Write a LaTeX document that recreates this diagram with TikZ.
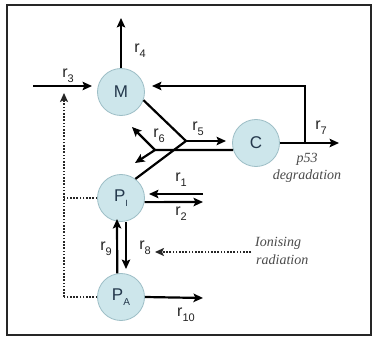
\documentclass[tikz,border=0pt]{standalone}
\usepackage{fontspec}
\setmainfont{Liberation Sans}
\newfontfamily\serifit{Liberation Serif}
\usetikzlibrary{arrows.meta}
\definecolor{nodefill}{HTML}{CDE6EB}
\definecolor{nodeline}{HTML}{9DBEC6}
\definecolor{nodetext}{HTML}{24384C}
\definecolor{labtext}{HTML}{222222}
\definecolor{ittext}{HTML}{4A4A4A}
\newcommand\rlab[1]{r\raisebox{-0.32em}{\fontsize{11}{11}\selectfont #1}}
\tikzset{
  species/.style={circle, draw=nodeline, line width=0.8pt, fill=nodefill, minimum size=47pt, inner sep=0pt, text=nodetext, font=\fontsize{17}{17}\selectfont},
  rxn/.style={line width=2.2pt, draw=black},
  arr/.style={rxn, -{Stealth[length=9.5pt,width=8.5pt,inset=2pt]}},
  dotl/.style={line width=2.2pt, draw=black!85, dash pattern=on 1.6pt off 1.6pt},
  dotarr/.style={dotl, -{Stealth[length=9pt,width=8pt,inset=2pt]}},
  lab/.style={text=labtext, font=\fontsize{16}{16}\selectfont, inner sep=0pt},
  itlab/.style={text=ittext, font=\serifit\itshape\fontsize{14}{14}\selectfont, inner sep=0pt}
}
\begin{document}
\begin{tikzpicture}[x=1pt,y=-1pt]
\useasboundingbox (0,0) rectangle (373,337);
\fill[white] (0,0) rectangle (373,337);
\draw[line width=2.5pt, draw=black!85] (7,5) rectangle (371,335);

% species
\node[species] (M) at (121,92) {M};
\node[species] (C) at (256,143) {C};
\node[species] (PI) at (121,198) {P\raisebox{-0.3em}{\fontsize{9}{9}\selectfont I}};
\node[species] (PA) at (121,297) {P\raisebox{-0.3em}{\fontsize{10}{10}\selectfont A}};

% coordinates
\coordinate (r4e) at (121,18);
\coordinate (r3s) at (33,86);
\coordinate (r3e) at (92,86);
\coordinate (dx) at (64,93);
\coordinate (fb1) at (305,143);
\coordinate (fb2) at (305,86);
\coordinate (fbe) at (152,86);
\coordinate (r7e) at (339,143);
\coordinate (V1) at (186,141);
\coordinate (r5e) at (226,141);
\coordinate (V2) at (155,150);
\coordinate (r6a) at (132,127);
\coordinate (r6b) at (135,163);
\coordinate (r1s) at (203,194);
\coordinate (r1e) at (149,194);
\coordinate (r2e) at (203,202);
\coordinate (r9e) at (117,219);
\coordinate (r8s) at (126,222);
\coordinate (r8e) at (126,269);
\coordinate (irs) at (251,252);
\coordinate (ire) at (155,252);
\coordinate (r10e) at (203,298);

% r4, r3
\draw[arr] (M.north) -- (r4e);
\draw[arr] (r3s) -- (r3e);
% dotted regulation
\draw[dotl] (PA.west) -- (PA.west -| dx);
\draw[dotl] (PI.west) -- (PI.west -| dx);
\draw[dotarr] (PA.west -| dx) -- (dx);
% r7 and feedback
\draw[arr] (C.east) -- (r7e);
\draw[arr] (fb1) -- (fb2) -- (fbe);
% r5
\draw[rxn] (M.-20) -- (V1);
\draw[rxn] (PI.53) -- (V1);
\draw[arr] (V1) -- (r5e);
% r6
\draw[rxn] (C.197) -- (V2);
\draw[arr] (V2) -- (r6a);
\draw[arr] (V2) -- (r6b);
% r1, r2
\draw[arr] (r1s) -- (r1e);
\draw[arr] (PI.-10) -- (r2e);
% r9, r8
\draw[arr] (PA.99) -- (r9e);
\draw[arr] (r8s) -- (r8e);
\draw[dotarr] (irs) -- (ire);
% r10
\draw[arr] (PA.east) -- (r10e);

% labels
\node[lab] (l4) at (140,51) {\rlab{4}};
\node[lab] (l3) at (68,76) {\rlab{3}};
\node[lab] (l5) at (198,129) {\rlab{5}};
\node[lab] (l6) at (159,136) {\rlab{6}};
\node[lab] (l7) at (321,128) {\rlab{7}};
\node[lab] (l1) at (181,180) {\rlab{1}};
\node[lab] (l2) at (181,214) {\rlab{2}};
\node[lab] (l9) at (106,249) {\rlab{9}};
\node[lab] (l8) at (145,248) {\rlab{8}};
\node[lab] (l10) at (186,315) {\rlab{10}};

\node[itlab] (p53) at (307,159) {p53};
\node[itlab] (deg) at (307,176) {degradation};
\node[itlab, anchor=west] (ion) at (255,243) {Ionising};
\node[itlab, anchor=west] (rad) at (256,260) {radiation};
\end{tikzpicture}
\end{document}
